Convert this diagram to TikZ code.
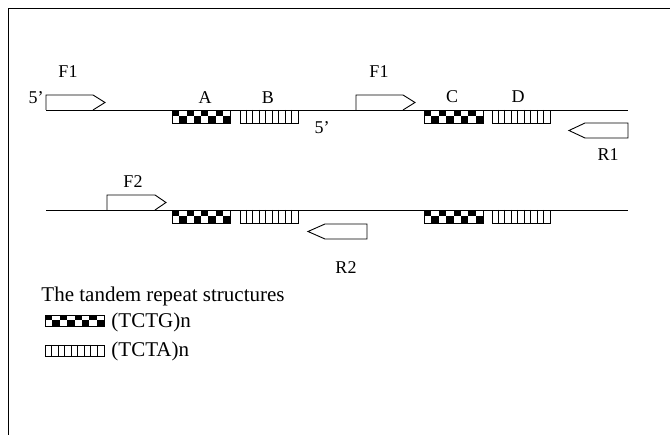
\documentclass[tikz,border=0pt]{standalone}
\usepackage{fontspec}
\setmainfont{Liberation Serif}
\newcommand\tcgbox[4]{%
  \foreach \i in {0,...,7}{\foreach \j in {0,1}{%
    \pgfmathtruncatemacro\k{mod(\i+\j,2)}%
    \ifnum\k=0 \fill (#1+\i*#3/8,#2+\j*#4/2) rectangle ++(#3/8,#4/2);\fi}}%
  \draw (#1,#2) rectangle ++(#3,#4);}
\newcommand\tcabox[4]{%
  \draw (#1,#2) rectangle ++(#3,#4);
  \foreach \i in {1,...,8} \draw (#1+\i*#3/9,#2) -- ++(0,#4);}
\begin{document}
\begin{tikzpicture}[x=1pt,y=-1pt,line width=0.9pt,
  lbl/.style={font=\fontsize{18}{20}\selectfont,inner sep=0pt},
  leg/.style={font=\fontsize{21}{23}\selectfont,inner sep=0pt,anchor=west},
  primer/.style={draw,fill=white,line join=miter},
  strand/.style={line width=0.9pt}]
\useasboundingbox (0,0) rectangle (670,435);
% frame
\draw[line width=1pt] (8,435) -- (8,9) -- (670,9);
% strands
\coordinate (s1a) at (46,110); \coordinate (s1b) at (628,110);
\coordinate (s2a) at (46,210); \coordinate (s2b) at (628,210);
\draw[strand] (s1a) -- (s1b);
\draw[strand] (s2a) -- (s2b);
% primers
\draw[primer] (46,110) -- (46,95) -- (93,95) -- (105,102.5) -- (93,110);
\draw[primer] (356,110) -- (356,95) -- (403,95) -- (415,102.5) -- (403,110);
\draw[primer] (628,123) -- (628,138) -- (585,138) -- (569,130.5) -- (585,123) -- cycle;
\draw[primer] (107,210) -- (107,195) -- (155,195) -- (166,202.5) -- (155,210);
\draw[primer] (367,224) -- (367,239) -- (325,239) -- (308,231.5) -- (325,224) -- cycle;
% repeats
\tcgbox{172}{110}{58}{13}
\tcabox{240}{110}{58}{13}
\tcgbox{424}{110}{59}{13}
\tcabox{492}{110}{58}{13}
\tcgbox{172}{210}{58}{13}
\tcabox{240}{210}{58}{13}
\tcgbox{424}{210}{59}{13}
\tcabox{492}{210}{58}{13}
% labels
\node[lbl] (f1a) at (68,72) {F1};
\node[lbl] (p5a) at (36,98) {5'};
\node[lbl] (la) at (205,98) {A};
\node[lbl] (lb) at (268,98) {B};
\node[lbl] (p5b) at (322,128) {5'};
\node[lbl] (f1b) at (379,72) {F1};
\node[lbl] (lc) at (452,97) {C};
\node[lbl] (ld) at (518,97) {D};
\node[lbl] (r1) at (608,155) {R1};
\node[lbl] (f2) at (133,182) {F2};
\node[lbl] (r2) at (346,268) {R2};
% legend
\node[leg] (title) at (41,296) {The tandem repeat structures};
\tcgbox{45}{315}{59}{11}
\node[leg] (tcg) at (111,322) {(TCTG)n};
\tcabox{45}{345}{59}{11}
\node[leg] (tca) at (111,351) {(TCTA)n};
\end{tikzpicture}
\end{document}
